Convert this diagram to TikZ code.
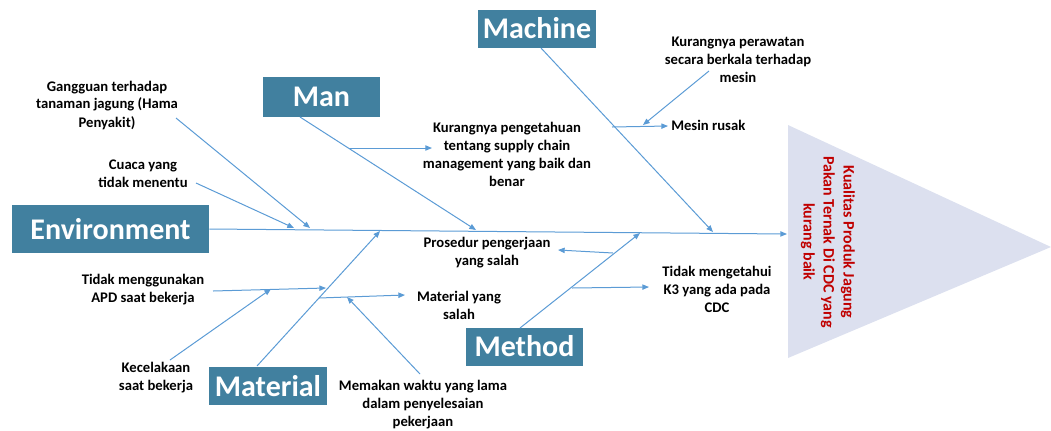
\documentclass[tikz,border=0pt]{standalone}
\usepackage{fontspec}
\setmainfont{Carlito}
\usetikzlibrary{arrows.meta}
\definecolor{boxblue}{HTML}{41809F}
\definecolor{lineblue}{HTML}{5B9BD5}
\definecolor{headfill}{HTML}{DCE0EF}
\definecolor{headred}{HTML}{C00000}
\begin{document}
\begin{tikzpicture}[x=0.75pt,y=-0.75pt,
  cat/.style={fill=boxblue,text=white,font=\fontsize{22.5}{26}\selectfont\bfseries,inner sep=0pt,minimum height=28.5pt},
  lbl/.style={align=center,font=\fontsize{11}{13.5}\selectfont\bfseries,inner sep=0pt},
  bone/.style={draw=lineblue,line width=0.75pt,-{Triangle[width=4pt,length=5pt]}},
]
\useasboundingbox (0,0) rectangle (1051,430);

% head
\fill[headfill] (788,125) -- (788,358) -- (1051,247) -- cycle;
\node[rotate=-90,align=center,text=headred,inner sep=0pt,font=\fontsize{12}{15}\selectfont\bfseries] (head) at (828,242)
  {Kualitas Produk Jagung\\Pakan Ternak Di CDC yang\\kurang baik};

% category boxes
\node[cat,minimum width=88.5pt] (machine) at (537,28.5) {Machine};
\node[cat,minimum width=87.75pt,minimum height=30pt] (man) at (321.5,97) {Man};
\node[cat,minimum width=147.75pt,minimum height=36pt] (env) at (110.5,229) {Environment};
\node[cat,minimum width=88.5pt] (material) at (268,386) {Material};
\node[cat,minimum width=87.75pt] (method) at (524.5,346.5) {Method};

% spine
\coordinate (spineend) at (787,234);
\draw[bone] (env.east |- 0,229) -- (spineend);

% bone endpoints
\coordinate (machS) at (541,48);   \coordinate (machE) at (713,232);
\coordinate (manS) at (300,117);   \coordinate (manE) at (476,230);
\coordinate (matS) at (257,366);   \coordinate (matE) at (380,231);
\coordinate (metS) at (520,328);   \coordinate (metE) at (640,233);
\draw[bone] (machS) -- (machE);
\draw[bone] (manS) -- (manE);
\draw[bone] (matS) -- (matE);
\draw[bone] (metS) -- (metE);

% labels
\node[lbl] (gangguan) at (107,105) {Gangguan terhadap\\tanaman jagung (Hama\\Penyakit)};
\node[lbl] (cuaca) at (143,174) {Cuaca yang\\tidak menentu};
\node[lbl] (kurpeng) at (507,154) {Kurangnya pengetahuan\\tentang supply chain\\management yang baik dan\\benar};
\node[lbl] (kurpera) at (738,60) {Kurangnya perawatan\\secara berkala terhadap\\mesin};
\node[lbl,anchor=west] (mesin) at (671,125) {Mesin rusak};
\node[lbl] (prosedur) at (487,253) {Prosedur pengerjaan\\yang salah};
\node[lbl] (k3) at (717,289) {Tidak mengetahui\\K3 yang ada pada\\CDC};
\node[lbl] (apd) at (143,290) {Tidak menggunakan\\APD saat bekerja};
\node[lbl] (kecel) at (156,378) {Kecelakaan\\saat bekerja};
\node[lbl] (matsalah) at (459,305) {Material yang\\salah};
\node[lbl] (memakan) at (423,405) {Memakan waktu yang lama\\dalam penyelesaian\\pekerjaan};

% sub-cause connectors
\coordinate (gS) at (176,118); \coordinate (gE) at (310,228);
\coordinate (cS) at (196,183); \coordinate (cE) at (294,228);
\draw[bone] (gS) -- (gE);
\draw[bone] (cS) -- (cE);

\coordinate (kpS) at (349,148); \coordinate (kpE) at (432,148);
\draw[bone] (kpS) -- (kpE);

\coordinate (mrS) at (612,127); \coordinate (mrE) at (668,126);
\coordinate (kwS) at (709,71);  \coordinate (kwE) at (643,125);
\draw[bone] (mrS) -- (mrE);
\draw[bone] (kwS) -- (kwE);

\coordinate (prS) at (613,253); \coordinate (prE) at (558,250);
\draw[bone] (prS) -- (prE);
\coordinate (k3S) at (572,288); \coordinate (k3E) at (649,287);
\draw[bone] (k3S) -- (k3E);

\coordinate (apS) at (213,291); \coordinate (apE) at (326,288);
\coordinate (keS) at (170,360); \coordinate (keE) at (271,289);
\draw[bone] (apS) -- (apE);
\draw[bone] (keS) -- (keE);

\coordinate (msS) at (319,298); \coordinate (msE) at (405,295);
\coordinate (mwS) at (420,374); \coordinate (mwE) at (347,297);
\draw[bone] (msS) -- (msE);
\draw[bone] (mwS) -- (mwE);
\end{tikzpicture}
\end{document}
